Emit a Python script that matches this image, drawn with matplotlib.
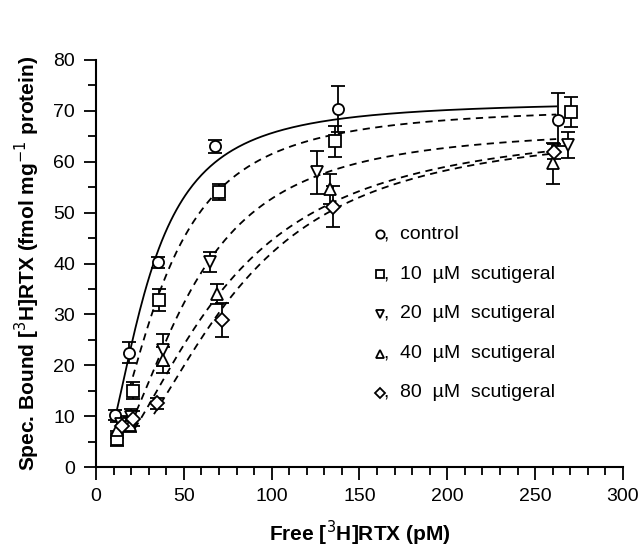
import numpy as np
import matplotlib
matplotlib.use('Agg')
import matplotlib.pyplot as plt

plt.rcParams['font.family'] = ['Liberation Sans', 'DejaVu Sans']

# measured points (free RTX in pM, bound in fmol/mg)
x_ctrl = [11, 19, 35.5, 68, 138, 263]
y_ctrl = [10.2, 22.5, 40.2, 63.0, 70.3, 68.3]
e_ctrl = [1.0, 2.0, 1.0, 1.2, 4.5, 5.2]

x_10 = [12, 21, 36, 70, 136, 270.5]
y_10 = [5.6, 15.0, 32.8, 54.1, 64.0, 69.8]
e_10 = [1.5, 1.7, 2.2, 1.6, 3.0, 2.9]

x_20 = [14, 20, 38, 65, 126, 268.5]
y_20 = [8.5, 9.9, 23.0, 40.3, 57.9, 63.3]
e_20 = [1.5, 1.5, 3.2, 2.0, 4.3, 2.5]

x_40 = [12, 19.5, 38, 69, 133, 260]
y_40 = [7.3, 8.3, 21.0, 34.0, 54.6, 59.7]
e_40 = [1.5, 1.5, 2.5, 2.0, 3.0, 4.0]

x_80 = [15, 21, 34.5, 71.5, 135, 261]
y_80 = [8.0, 9.5, 12.5, 28.9, 51.2, 62.0]
e_80 = [1.0, 1.5, 1.0, 3.4, 4.0, 1.5]

# fitted Hill curves: Bmax, Kd, n, x range
fit_ctrl = (72, 29.1, 1.89, 11.5, 262)
fit_10 = (71, 37.4, 1.9, 19, 262)
fit_20 = (67, 52, 2.0, 23, 262)
fit_40 = (68, 70, 1.8, 22, 262)
fit_80 = (67, 77, 2.0, 33, 262)

labels = ['control', '10  \u00b5M  scutigeral', '20  \u00b5M  scutigeral',
          '40  \u00b5M  scutigeral', '80  \u00b5M  scutigeral']
markers = ['o', 's', 'v', '^', 'D']

series = [(x_ctrl, y_ctrl, e_ctrl, fit_ctrl), (x_10, y_10, e_10, fit_10),
          (x_20, y_20, e_20, fit_20), (x_40, y_40, e_40, fit_40),
          (x_80, y_80, e_80, fit_80)]

def hill(x, bmax, kd, n):
    return bmax * x**n / (kd**n + x**n)

fig = plt.figure(figsize=(6.4, 5.54), dpi=100)
ax = fig.add_axes([0.15, 0.157, 0.8234, 0.7347])

for i, (xs, ys, es, fit) in enumerate(series):
    bmax, kd, n, x0, x1 = fit
    xx = np.linspace(x0, x1, 300)
    ls = '-' if i == 0 else (0, (4, 3))
    ax.plot(xx, hill(xx, bmax, kd, n), color='black', lw=1.3, linestyle=ls)
    ms = 7 if markers[i] == 'D' else 8
    ax.errorbar(xs, ys, yerr=es, fmt=markers[i], mfc='white', mec='black',
                mew=1.3, ms=ms, ecolor='black', elinewidth=1.3, capsize=5,
                capthick=1.3, zorder=3)

# legend drawn as marker + text
leg_y = [45.8, 37.9, 30.1, 22.3, 14.6]
for i in range(5):
    ms = 5 if markers[i] == 'D' else 6
    ax.plot([161.6], [leg_y[i]], marker=markers[i], mfc='white', mec='black',
            mew=1.3, ms=ms, ls='none', clip_on=False)
    ax.text(164, leg_y[i], ',  ' + labels[i], fontsize=14, va='center', ha='left')

ax.set_xlim(0, 300)
ax.set_ylim(0, 80)
ax.set_xticks(np.arange(0, 301, 50))
ax.set_xticks(np.arange(0, 301, 10), minor=True)
ax.set_yticks(np.arange(0, 81, 10))
ax.set_yticks(np.arange(0, 81, 5), minor=True)
ax.spines['top'].set_visible(False)
ax.spines['right'].set_visible(False)
ax.spines['left'].set_linewidth(1.5)
ax.spines['bottom'].set_linewidth(1.5)
ax.tick_params(which='major', direction='out', length=9, width=1.3, labelsize=14, pad=6)
ax.tick_params(which='minor', direction='out', length=6, width=1.3)

ax.set_xlabel('Free [$^3$H]RTX (pM)', fontsize=15, fontweight='bold', labelpad=10)
ax.set_ylabel('Spec. Bound [$^3$H]RTX (fmol mg$^{-1}$ protein)', fontsize=15,
              fontweight='bold', labelpad=8)

fig.savefig('out.png', dpi=100)
